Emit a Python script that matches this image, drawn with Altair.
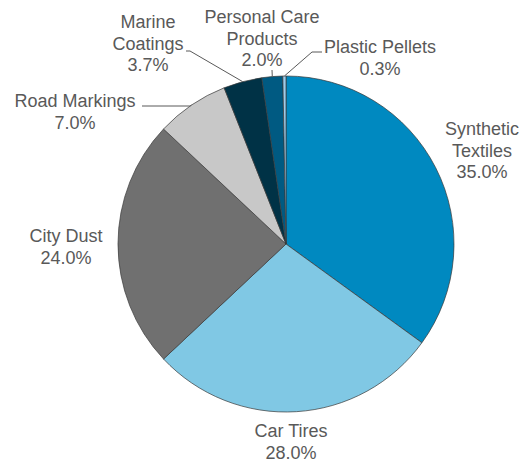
import math
import altair as alt
import pandas as pd

# ---- data ----
categories = ["Synthetic Textiles", "Car Tires", "City Dust", "Road Markings",
              "Marine Coatings", "Personal Care Products", "Plastic Pellets"]
label_names = ["Synthetic\nTextiles", "Car Tires", "City Dust", "Road Markings",
               "Marine\nCoatings", "Personal Care\nProducts", "Plastic Pellets"]
values = [35.0, 28.0, 24.0, 7.0, 3.7, 2.0, 0.3]

# ---- styling / layout ----
colors = ["#0089C0", "#80C8E4", "#707070", "#C8C8C8", "#003246", "#005A82", "#9DCCEB"]
CX, CY, R = 278, 236, 168          # pie centre & radius (view px)
# first-line centres of label blocks (view px)
label_pos = [(474, 122), (283, 424), (58, 229), (67, 94), (140, 15), (254, 10), (372, 40)]
# leader lines: extra points after the slice-edge point (view px), None = no leader
leader_pts = [None, None, None,
              [(182, 98), (134, 98)],
              [(182, 43), (178, 43)],
              [(264, 62)],
              [(304, 44), (314, 44)]]

total = sum(values)
df = pd.DataFrame({"category": categories, "value": values, "idx": range(len(values))})

# label table
lab_rows = []
for i, (name, v) in enumerate(zip(label_names, values)):
    lab_rows.append({"category": categories[i], "text": f"{name}\n{v:.1f}%",
                     "lx": label_pos[i][0], "ly": label_pos[i][1]})
lab_df = pd.DataFrame(lab_rows)

# leader lines from slice mid-angle edge points
line_rows = []
cum = 0.0
for i, v in enumerate(values):
    mid = (cum + v / 2) / total * 2 * math.pi
    cum += v
    if leader_pts[i] is None:
        continue
    ex = CX + R * math.sin(mid)
    ey = CY - R * math.cos(mid)
    pts = [(ex, ey)] + leader_pts[i]
    for k, (px, py) in enumerate(pts):
        line_rows.append({"category": categories[i], "k": k, "px": px, "py": py})
line_df = pd.DataFrame(line_rows)

pie = alt.Chart(df).mark_arc(outerRadius=R, stroke="#3A3A3A", strokeWidth=0.7).encode(
    theta=alt.Theta("value:Q", stack=True),
    color=alt.Color("category:N", scale=alt.Scale(domain=categories, range=colors), legend=None),
    order=alt.Order("idx:Q"),
    x=alt.value(CX),
    y=alt.value(CY),
)

leaders = alt.Chart(line_df).mark_line(color="#595959", strokeWidth=1).encode(
    x=alt.X("px:Q", scale=None, axis=None),
    y=alt.Y("py:Q", scale=None, axis=None),
    detail="category:N",
    order="k:Q",
)

labels = alt.Chart(lab_df).mark_text(
    lineBreak="\n", font="Liberation Sans", fontSize=18, color="#595959",
    align="center", baseline="middle", lineHeight=21.5,
).encode(
    x=alt.X("lx:Q", scale=None, axis=None),
    y=alt.Y("ly:Q", scale=None, axis=None),
    text="text:N",
)

chart = alt.layer(pie, leaders, labels).properties(
    width=512, height=458, padding=0, autosize=alt.AutoSizeParams(type="none"),
    background="white",
).configure_view(stroke=None)

chart.save("out.html", embed_options={"renderer": "svg", "actions": False})
